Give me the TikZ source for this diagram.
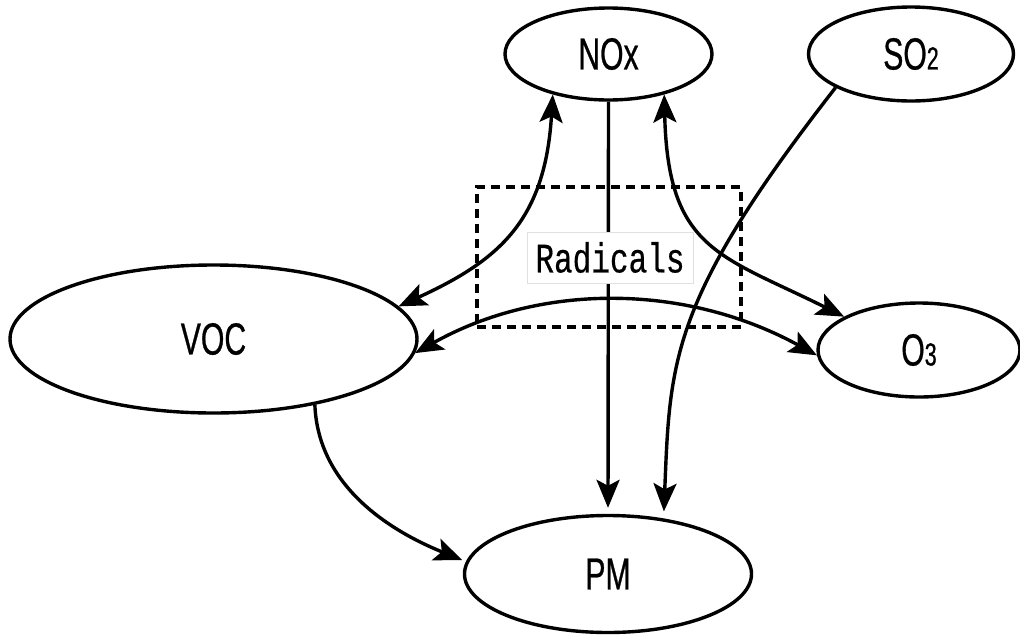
\documentclass[tikz,border=0pt]{standalone}
\usepackage{fontspec}
\setmainfont{Liberation Sans}
\newfontfamily\labfont[FakeStretch=0.67,FakeBold=0.6]{Liberation Sans}
\newfontfamily\radfont[FakeStretch=0.74,FakeBold=0.4]{Liberation Mono}
\usetikzlibrary{shapes.geometric,arrows.meta}
\begin{document}
\begin{tikzpicture}[x=1pt,y=-1pt,
  >={Stealth[length=28pt,width=23pt,inset=6pt]},
  ell/.style={ellipse,draw,line width=3.4pt,inner sep=0pt,
    font=\labfont\fontsize{45}{45}\selectfont},
  con/.style={line width=3.4pt},
  dbox/.style={draw,line width=3.4pt,dash pattern=on 9pt off 6pt,inner sep=0pt},
  radlabel/.style={draw=black!12,line width=0.8pt,fill=white,inner sep=0pt,
    font=\radfont\fontsize{42}{42}\selectfont}]
\useasboundingbox (0,0) rectangle (1020,635);
% nodes
\node[ell,minimum width=207pt,minimum height=92pt] (nox) at (608.5,54) {NOx};
\node[ell,minimum width=205pt,minimum height=94pt] (so2) at (911,54) {SO{\fontsize{32}{32}\selectfont 2}};
\node[ell,minimum width=407pt,minimum height=148pt] (voc) at (213.5,339) {VOC};
\node[ell,minimum width=202pt,minimum height=94pt] (o3) at (919,350) {O{\fontsize{32}{32}\selectfont 3}};
\node[ell,minimum width=287pt,minimum height=117pt] (pm) at (608,574) {PM};
\node[dbox,minimum width=264pt,minimum height=140pt] (radbox) at (609,257) {};
% connectors
\draw[con,<->] (nox.216) .. controls (545,220) and (500,260) .. (voc.10);
\draw[con,<->] (voc.-4) .. controls (540,283) and (685,283) .. (o3.183);
\draw[con,<->] (nox.-36) .. controls (668,250) and (720,255) .. (o3.156);
\draw[con,->,shorten >=6pt] (nox.south) -- (pm.north);
\draw[con,->,shorten >=7pt] (so2.204) .. controls (670,300) and (670,360) .. (pm.45);
\draw[con,->,shorten >=4pt] (voc.-33) .. controls (318,485) and (388,530) .. (pm.175);
% label
\node[radlabel,minimum width=166pt,minimum height=51pt] (rad) at (610,257.5) {Radicals};
\end{tikzpicture}
\end{document}
